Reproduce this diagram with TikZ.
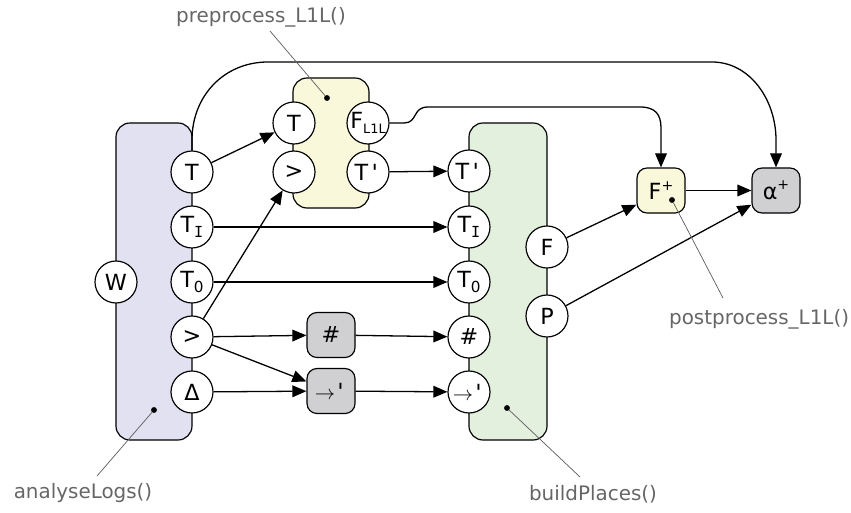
\documentclass[tikz,border=0pt]{standalone}
\usepackage{fontspec}
\setmainfont{DejaVu Sans}
\newfontfamily\monof{DejaVu Sans Mono}
\usetikzlibrary{arrows.meta,calc}
\definecolor{bluefill}{HTML}{E1E1F2}
\definecolor{yelfill}{HTML}{F9F8DA}
\definecolor{grnfill}{HTML}{E3F0DE}
\definecolor{gryfill}{HTML}{D0D0D3}
\definecolor{labgray}{HTML}{666666}
\newcommand\lo[1]{\raisebox{-0.45ex}{\fontsize{13}{13}\selectfont #1}}
\newcommand\hi[1]{\raisebox{0.8ex}{\fontsize{12}{12}\selectfont #1}}
\tikzset{
  every node/.style={font=\fontsize{17}{20}\selectfont},
  port/.style={circle,draw,fill=white,line width=1pt,minimum size=1.26cm,inner sep=0pt,font=\fontsize{19}{22}\selectfont},
  procbox/.style={draw,line width=1pt,rounded corners=0.42cm,inner sep=0pt},
  opbox/.style={draw,line width=1pt,rounded corners=0.3cm,inner sep=0pt,minimum width=1.44cm,minimum height=1.35cm,font=\fontsize{19}{22}\selectfont},
  arr/.style={line width=1.1pt,-{Triangle[length=12pt,width=10pt]}},
  leader/.style={draw=labgray!90!black,line width=0.6pt},
  lab/.style={text=labgray},
  dotm/.style={circle,fill=black,inner sep=0pt,minimum size=5pt}
}
\begin{document}
\begin{tikzpicture}[x=0.03cm,y=-0.03cm]
\useasboundingbox (0,0) rectangle (851,513);
% boxes
\node[procbox,fill=bluefill,minimum width=2.28cm,minimum height=9.51cm] (AL) at (154,281.5) {};
\node[procbox,fill=yelfill,minimum width=2.28cm,minimum height=3.9cm] (PP) at (331,143) {};
\node[procbox,fill=grnfill,minimum width=2.34cm,minimum height=9.51cm] (BP) at (508,281.5) {};
\node[opbox,fill=gryfill] (hash) at (331,335) {\#};
\node[opbox,fill=gryfill] (succ) at (331,391) {$\rightarrow$\kern-1pt{\monof '}};
\node[opbox,fill=yelfill] (Fp) at (661,190.5) {F\hi{+}};
\node[opbox,fill=gryfill] (ap) at (776,190.5) {α\hi{+}};
% ports of analyseLogs
\node[port] (W) at (116,282) {W};
\node[port] (bT) at (192,172) {T};
\node[port] (bTI) at (192,227) {T\lo{\monof I}};
\node[port] (bTO) at (192,282) {T\lo{0}};
\node[port] (bGT) at (192,337) {>};
\node[port] (bD) at (192,392) {Δ};
% ports of preprocess
\node[port] (yT) at (294,123) {T};
\node[port] (yGT) at (294,172) {>};
\node[port] (yF) at (368,123) {\makebox[0pt]{F\lo{\fontsize{11}{11}\selectfont L1L}}};
\node[port] (yTp) at (368,172) {T{\monof '}};
% ports of buildPlaces
\node[port] (gTp) at (469,171) {T{\monof '}};
\node[port] (gTI) at (469,227) {T\lo{\monof I}};
\node[port] (gTO) at (469,282) {T\lo{0}};
\node[port] (gH) at (469,337) {\#};
\node[port] (gS) at (469,392) {$\rightarrow$\kern-1pt{\monof '}};
\node[port] (gF) at (547,247) {F};
\node[port] (gP) at (547,316) {P};
% connectors
\draw[arr] (bT) -- (yT);
\draw[arr] (bGT) -- (yGT);
\draw[arr] (yTp) -- (gTp);
\draw[arr] (bTI) -- (gTI);
\draw[arr] (bTO) -- (gTO);
\draw[arr] (bGT) -- (hash);
\draw[arr] (hash) -- (gH);
\draw[arr] (bGT) -- (succ);
\draw[arr] (bD) -- (succ);
\draw[arr] (succ) -- (gS);
\draw[arr] (gF) -- (Fp.210);
\draw[arr] (gP) -- (ap.210);
\draw[arr] (Fp) -- (ap);
\draw[arr] (bT.north) -- (192,140) .. controls (192,96) and (224,62) .. (268,62) -- (712,62) .. controls (750,62) and (776,100) .. (776,140) -- (ap.north);
\draw[arr] (yF.east) -- (404,123) .. controls (418,123) and (412,107) .. (428,107) -- (640,107) .. controls (655,107) and (661,114) .. (661,128) -- (Fp.north);
% dots and leaders
\node[dotm] (dA) at (154,410) {};
\node[dotm] (dP) at (327,98) {};
\node[dotm] (dB) at (507,408) {};
\node[dotm] (dF) at (672,200) {};
\node[lab] (lA) at (83,493) {analyseLogs()};
\node[lab] (lP) at (261,17) {preprocess\_L1L()};
\node[lab] (lB) at (593,494) {buildPlaces()};
\node[lab,anchor=west] (lF) at (665,319) {postprocess\_L1L()};
\coordinate (eA) at (97,476);
\coordinate (eP) at (270,31);
\coordinate (eB) at (580,477);
\coordinate (eF) at (723,298);
\draw[leader] (dA) -- (eA);
\draw[leader] (dP) -- (eP);
\draw[leader] (dB) -- (eB);
\draw[leader] (dF) -- (eF);
\end{tikzpicture}
\end{document}
